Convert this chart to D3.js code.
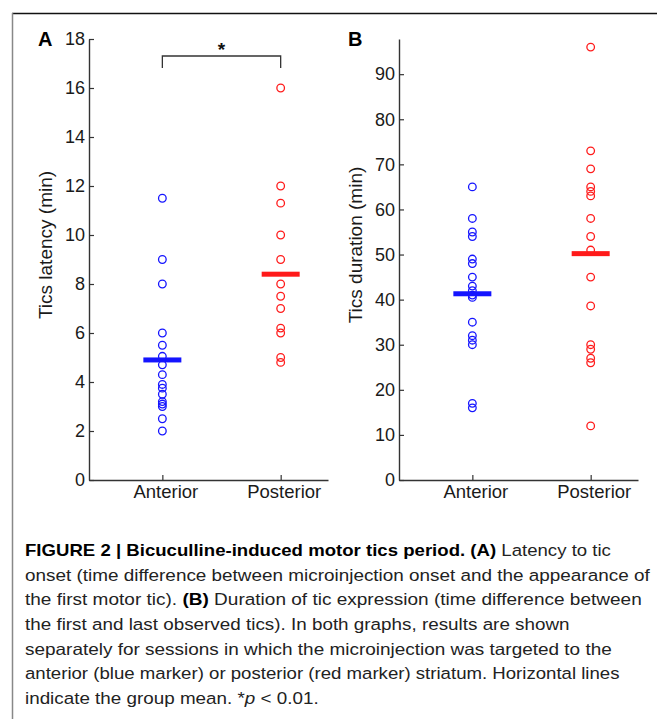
<!DOCTYPE html>
<html>
<head>
<meta charset="utf-8">
<script src="https://cdn.jsdelivr.net/npm/d3@7"></script>
<style>
  html, body { margin: 0; padding: 0; background: #fff; }
  svg { display: block; }
</style>
</head>
<body>
<svg id="fig" width="657" height="719"></svg>
<script>
// ---------- data ----------
const categories = ["Anterior", "Posterior"];

const latencyAnterior  = [11.5, 9, 8, 6, 5.5, 5.05, 4.7, 4.3, 3.9, 3.75, 3.5, 3.2, 3.1, 3.0, 2.5, 2.0];
const latencyPosterior = [16, 12, 11.3, 10, 9, 8, 7.5, 7, 6.2, 6.0, 5.0, 4.8];
const latencyMeans     = [4.9, 8.4];
const latencyTicks     = [0, 2, 4, 6, 8, 10, 12, 14, 16, 18];

const durationAnterior  = [65, 58, 55, 54, 49, 48, 45, 43, 42, 41, 40.5, 35, 32, 31, 30, 17, 16];
const durationPosterior = [96, 73, 69, 65, 64, 63, 58, 54, 51, 45, 38.6, 30, 29, 27, 26, 12];
const durationMeans     = [41.3, 50.2];
const durationTicks     = [0, 10, 20, 30, 40, 50, 60, 70, 80, 90];

const captionLines = [
  [{t: "FIGURE 2 | Bicuculline-induced motor tics period. (A)", b: true}, {t: " Latency to tic"}],
  [{t: "onset (time difference between microinjection onset and the appearance of"}],
  [{t: "the first motor tic). "}, {t: "(B)", b: true}, {t: " Duration of tic expression (time difference between"}],
  [{t: "the first and last observed tics). In both graphs, results are shown"}],
  [{t: "separately for sessions in which the microinjection was targeted to the"}],
  [{t: "anterior (blue marker) or posterior (red marker) striatum. Horizontal lines"}],
  [{t: "indicate the group mean. *"}, {t: "p", i: true}, {t: " < 0.01."}]
];
const captionEnds = [611, 650, 642, 570, 612, 620, null];

// ---------- drawing ----------
const svg = d3.select("#fig");
const BLUE = "#1414ff", RED = "#ff1a1a", AX = "#333";
const FONT = "'Liberation Sans', Arial, Helvetica, sans-serif";

// frame lines
svg.append("line").attr("x1", 12).attr("x2", 657).attr("y1", 13.5).attr("y2", 13.5)
  .attr("stroke", "#111").attr("stroke-width", 1.5);
svg.append("line").attr("x1", 12.5).attr("x2", 12.5).attr("y1", 13).attr("y2", 719)
  .attr("stroke", "#888").attr("stroke-width", 1.5);

function panel(opts) {
  const g = svg.append("g");
  const x = d3.scaleLinear().domain([0.38, 2.40]).range([opts.left, opts.left + 239]);
  const y = d3.scaleLinear().domain([0, opts.ymax]).range([480, 39]);

  const ya = g.append("g").attr("transform", `translate(${opts.left},0)`)
    .call(d3.axisLeft(y).tickValues(opts.ticks).tickSizeInner(-5).tickSizeOuter(0).tickPadding(4));
  const xa = g.append("g").attr("transform", `translate(0,480)`)
    .call(d3.axisBottom(x).tickValues([1, 2]).tickFormat(d => categories[d - 1])
      .tickSizeInner(-5).tickSizeOuter(0).tickPadding(5));
  [ya, xa].forEach(a => {
    a.select(".domain").attr("stroke", AX).attr("stroke-width", 1.4);
    a.selectAll(".tick line").attr("stroke", AX).attr("stroke-width", 1.2);
    a.selectAll("text").attr("fill", "#1a1a1a").style("font-family", FONT);
  });
  ya.selectAll("text").style("font-size", "18px");
  xa.selectAll("text").style("font-size", "18.5px").attr("dx", "3");

  g.append("text")
    .attr("transform", `translate(${opts.left - 37},${opts.labelY}) rotate(-90)`)
    .attr("text-anchor", "middle").attr("fill", "#1a1a1a")
    .style("font-family", FONT).style("font-size", "19px")
    .text(opts.ylabel);

  g.append("text").attr("x", opts.left - 51).attr("y", 46)
    .style("font-family", FONT).style("font-size", "20px").style("font-weight", "bold")
    .attr("fill", "#000").text(opts.letter);

  const groups = [opts.ant, opts.post];
  const colors = [BLUE, RED];
  groups.forEach((vals, gi) => {
    g.append("g").selectAll("circle").data(vals).join("circle")
      .attr("cx", x(gi + 1)).attr("cy", d => y(d)).attr("r", 3.8)
      .attr("fill", "none").attr("stroke", colors[gi]).attr("stroke-width", 1.3);
  });
  g.append("g").selectAll("rect").data(opts.means).join("rect")
    .attr("x", (d, i) => x(i + 1) - 19).attr("width", 38)
    .attr("y", d => y(d) - 2.5).attr("height", 5)
    .attr("fill", (d, i) => colors[i]);

  return {g, x, y};
}

const A = panel({left: 89, ymax: 18, ticks: latencyTicks, ylabel: "Tics latency (min)", labelY: 245,
  letter: "A", ant: latencyAnterior, post: latencyPosterior, means: latencyMeans});
const B = panel({left: 399, ymax: 97.8, ticks: durationTicks, ylabel: "Tics duration (min)", labelY: 245,
  letter: "B", ant: durationAnterior, post: durationPosterior, means: durationMeans});

// significance bracket in panel A
const bx1 = A.x(1), bx2 = A.x(2), byTop = 56, byBot = 68;
A.g.append("path")
  .attr("d", `M${bx1},${byBot}V${byTop}H${bx2}V${byBot}`)
  .attr("fill", "none").attr("stroke", AX).attr("stroke-width", 1.3);
A.g.append("text").attr("x", (bx1 + bx2) / 2).attr("y", 56).attr("text-anchor", "middle")
  .style("font-family", FONT).style("font-size", "19px").style("font-weight", "bold")
  .attr("fill", "#111").text("*");

// caption
const capX = 25, capY0 = 556, capDY = 24.7;
const CAPFONT = "'Liberation Sans Narrow', 'Liberation Sans', Arial, sans-serif";
const capNodes = [];
captionLines.forEach((segs, li) => {
  const t = svg.append("text").attr("x", capX).attr("y", capY0 + li * capDY)
    .style("font-family", CAPFONT).style("font-size", "16.5px").attr("fill", "#222");
  segs.forEach(s => {
    t.append("tspan").text(s.t)
      .style("font-weight", s.b ? "bold" : "normal")
      .style("font-style", s.i ? "italic" : "normal")
      .attr("fill", s.b ? "#000" : "#222");
  });
  capNodes.push(t);
});
const scales = [];
capNodes.forEach((t, i) => {
  if (captionEnds[i] != null) {
    const w = t.node().getComputedTextLength();
    scales[i] = (captionEnds[i] - capX) / w;
  }
});
const meanScale = d3.mean(scales.filter(s => s != null));
capNodes.forEach((t, i) => {
  const s = scales[i] != null ? scales[i] : meanScale;
  t.attr("transform", `translate(${capX},0) scale(${s},1) translate(${-capX},0)`);
});
</script>
</body>
</html>
